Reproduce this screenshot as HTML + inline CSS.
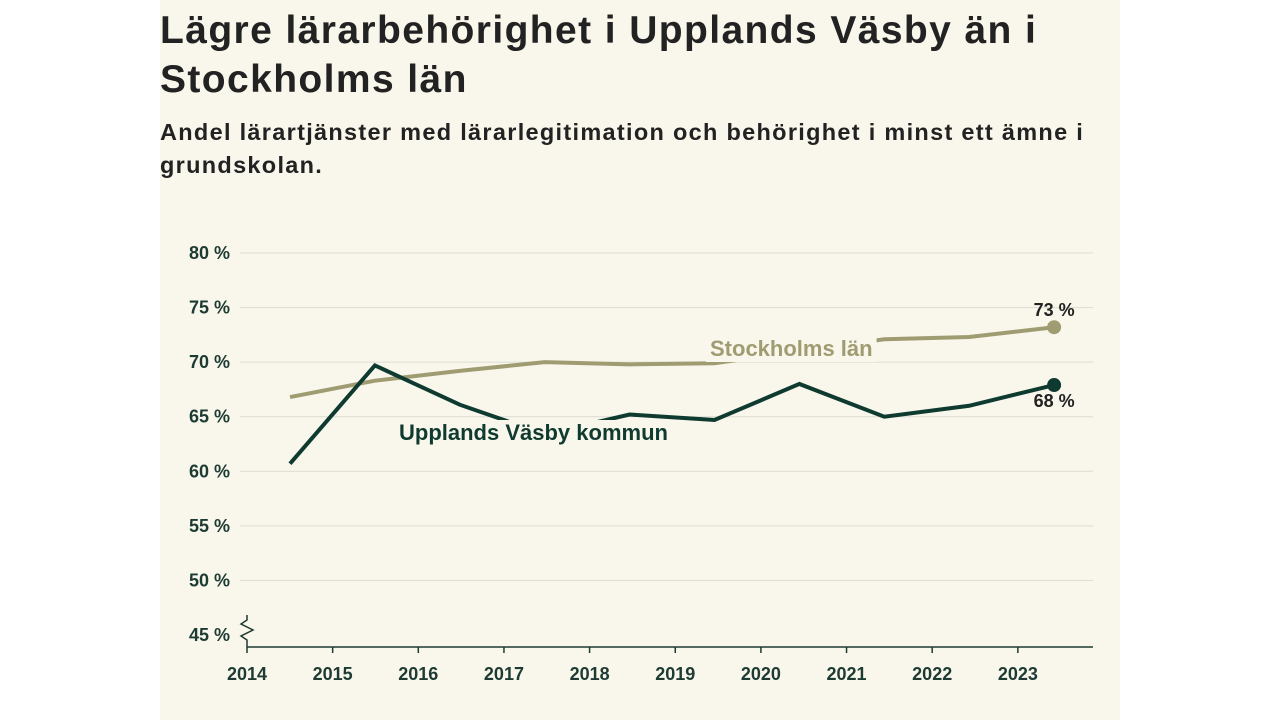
<!DOCTYPE html>
<html><head><meta charset="utf-8"><style>
body{margin:0;width:1280px;height:720px;background:#fff;overflow:hidden;font-family:"Liberation Sans",sans-serif}
#panel{position:absolute;left:160px;top:0;width:960px;height:720px;background:#f9f7ec}
h1{position:absolute;left:160px;top:6px;margin:0;font-size:39px;line-height:49px;font-weight:700;color:#222;width:950px;letter-spacing:1.4px}
h2{position:absolute;left:160px;top:116px;margin:0;font-size:23.5px;line-height:33px;font-weight:700;color:#222;width:950px;letter-spacing:1.3px}
svg{position:absolute;left:0;top:0}
</style></head><body>
<div id="panel"></div>
<h1>Lägre lärarbehörighet i Upplands Väsby än i Stockholms län</h1>
<h2>Andel lärartjänster med lärarlegitimation och behörighet i minst ett ämne i grundskolan.</h2>
<svg id="c" width="1280" height="720"></svg>
<script>
const years=[2014.5,2015.5,2016.5,2017.5,2018.5,2019.5,2020.5,2021.5,2022.5,2023.5];
const stockholm=[66.8,68.3,69.2,70.0,69.8,69.9,71.0,72.1,72.3,73.2];
const vasby=[60.7,69.7,66.1,63.4,65.2,64.7,68.0,65.0,66.0,67.9];
const yTicks=[45,50,55,60,65,70,75,80];
const xTicks=[2014,2015,2016,2017,2018,2019,2020,2021,2022,2023];
const X=v=>247+(v-2014)*85.65, Xp=v=>290+(v-2014.5)*84.9, Y=v=>253+(80-v)*10.914;
const s=document.getElementById('c'),NS='http://www.w3.org/2000/svg';
function el(t,a,txt){const e=document.createElementNS(NS,t);for(const k in a)e.setAttribute(k,a[k]);if(txt!=null)e.textContent=txt;s.appendChild(e);return e;}
yTicks.forEach(v=>{
 if(v>45){const g=el('line',{x1:240,x2:1093,y1:Y(v),y2:Y(v),stroke:'#dcdcd2','stroke-width':1});
 
 }
 const t=el('text',{x:230,y:Y(v)+6,'text-anchor':'end','font-size':18,'font-weight':600,fill:'#1d3b33'},v+' %');
 
 
});
const ax=el('line',{x1:247,x2:1093,y1:647,y2:647,stroke:'#1d3b33','stroke-width':1.5});


const brk=el('path',{d:'M247,615 L247,620 L241,624 L253,630 L241,636 L247,640 L247,647',fill:'none',stroke:'#1d3b33','stroke-width':1.5});


xTicks.forEach(v=>{
 el('line',{x1:X(v),x2:X(v),y1:647,y2:653,stroke:'#1d3b33','stroke-width':1.5});
 const t=el('text',{x:X(v),y:680,'text-anchor':'middle','font-size':18,'font-weight':600,fill:'#1d3b33'},v);
 
 
});
function line(data,col,name){
 const p=el('polyline',{points:data.map((v,i)=>Xp(years[i])+','+Y(v)).join(' '),fill:'none',stroke:col,'stroke-width':4,'stroke-linejoin':'miter'});
 
 
 const n=data.length-1;
 const d=el('circle',{cx:Xp(years[n]),cy:Y(data[n]),r:7,fill:col});
 
 
}
line(stockholm,'#a09c72','stockholm-line');
line(vasby,'#0f3a30','vasby-line');
function label(x,y,txt,col,name){
 const r=el('rect',{x:x-4,y:y-20,width:10,height:26,fill:'#f9f7ec'});
 const t=el('text',{x:x,y:y,'font-size':22,'font-weight':600,fill:col},txt);
 
 
 const w=t.getBBox().width;r.setAttribute('width',w+8);
}
label(710,356,'Stockholms län','#a09c72','stockholm-label');
label(399,440,'Upplands Väsby kommun','#0f3a30','vasby-label');
const n=years.length-1;
const a=el('text',{x:Xp(years[n]),y:Y(stockholm[n])-11,'text-anchor':'middle','font-size':18,'font-weight':600,fill:'#222'},Math.round(stockholm[n])+' %');


const b=el('text',{x:Xp(years[n]),y:Y(vasby[n])+22,'text-anchor':'middle','font-size':18,'font-weight':600,fill:'#222'},Math.round(vasby[n])+' %');


</script>
</body></html>
